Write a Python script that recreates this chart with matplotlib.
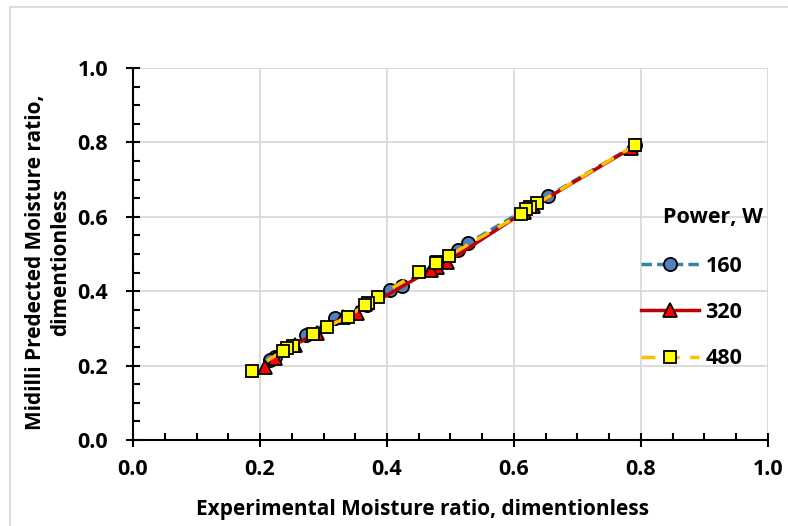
import matplotlib.pyplot as plt
from matplotlib.ticker import MultipleLocator
from matplotlib.patches import Rectangle

plt.rcParams['font.family'] = ['Open Sans', 'DejaVu Sans']
plt.rcParams['font.weight'] = 'bold'

# experimental (x) vs predicted (y) moisture ratio, per power level
x160 = [0.790, 0.654, 0.528, 0.512, 0.423, 0.405, 0.368, 0.318, 0.273, 0.224, 0.215]
y160 = [0.792, 0.656, 0.529, 0.511, 0.415, 0.403, 0.362, 0.327, 0.282, 0.224, 0.215]

x320 = [0.785, 0.630, 0.615, 0.494, 0.478, 0.470, 0.352, 0.330, 0.290, 0.255, 0.224, 0.208]
y320 = [0.785, 0.628, 0.612, 0.478, 0.464, 0.458, 0.342, 0.330, 0.288, 0.256, 0.220, 0.197]

x480 = [0.790, 0.637, 0.625, 0.619, 0.611, 0.497, 0.478, 0.477, 0.450, 0.386, 0.370,
        0.366, 0.338, 0.306, 0.284, 0.252, 0.243, 0.236, 0.187]
y480 = [0.792, 0.636, 0.626, 0.620, 0.607, 0.495, 0.479, 0.476, 0.452, 0.385, 0.369,
        0.364, 0.331, 0.305, 0.286, 0.253, 0.247, 0.240, 0.186]

labels = ['160', '320', '480']

fig = plt.figure(figsize=(7.88, 5.26), dpi=100)
ax = fig.add_axes([133/788, 1-440/526, 635/788, 372/526])

ax.plot(x160, y160, linestyle=(0, (3, 1.5)), color='#31859C', lw=2.5,
        marker='o', ms=9.5, mfc='#4F81BD', mec='black', mew=1.3, label=labels[0], zorder=3)
ax.plot(x320, y320, linestyle='-', color='#C00000', lw=2.5,
        marker='^', ms=9.5, mfc='#FF0000', mec='black', mew=1.3, label=labels[1], zorder=4)
ax.plot(x480, y480, linestyle=(0, (4, 3)), color='#FFC000', lw=2.5,
        marker='s', ms=9, mfc='#FFFF00', mec='black', mew=1.3, label=labels[2], zorder=5)

ax.set_xlim(0, 1.0)
ax.set_ylim(0, 1.0)
ax.xaxis.set_major_locator(MultipleLocator(0.2))
ax.yaxis.set_major_locator(MultipleLocator(0.2))
ax.xaxis.set_minor_locator(MultipleLocator(0.05))
ax.yaxis.set_minor_locator(MultipleLocator(0.05))
ax.xaxis.set_major_formatter(plt.FormatStrFormatter('%.1f'))
ax.yaxis.set_major_formatter(plt.FormatStrFormatter('%.1f'))
ax.tick_params(which='major', direction='inout', length=10, width=1.5, labelsize=15.5)
ax.tick_params(which='minor', direction='in', length=5, width=1.5)
ax.tick_params(axis='x', which='major', pad=9)
ax.tick_params(axis='y', which='major', pad=13)
for t in ax.get_xticklabels() + ax.get_yticklabels():
    t.set_fontweight('bold')

ax.grid(True, which='major', color='#D9D9D9', lw=1.3)
ax.set_axisbelow(True)
for s in ['top', 'right']:
    ax.spines[s].set_visible(False)
for s in ['left', 'bottom']:
    ax.spines[s].set_linewidth(1.5)

fig.text(422/788, 1-510/526, 'Experimental Moisture ratio, dimentionless',
         ha='center', va='center', fontsize=15, fontweight='bold')
fig.text(48/788, 1-262/526, 'Midilli Predected Moisture ratio,\ndimentionless',
         ha='center', va='center', rotation=90, fontsize=15, fontweight='bold',
         linespacing=1.25)

fig.text(713/788, 1-218/526, 'Power, W', ha='center', va='center',
         fontsize=15.5, fontweight='bold')
leg = ax.legend(loc='upper left', bbox_to_anchor=(630/788, 1-245/526),
                bbox_transform=fig.transFigure, frameon=False,
                labelspacing=1.17, handlelength=2.7, handletextpad=0.3,
                borderpad=0, prop={'weight': 'bold', 'size': 15.5})

fig.patches.append(Rectangle((10/788, -0.1), 1.2, 1-7/526 + 0.1, transform=fig.transFigure,
                             fill=False, edgecolor='#D9D9D9', lw=1.3))

fig.savefig('out.png', dpi=100)
